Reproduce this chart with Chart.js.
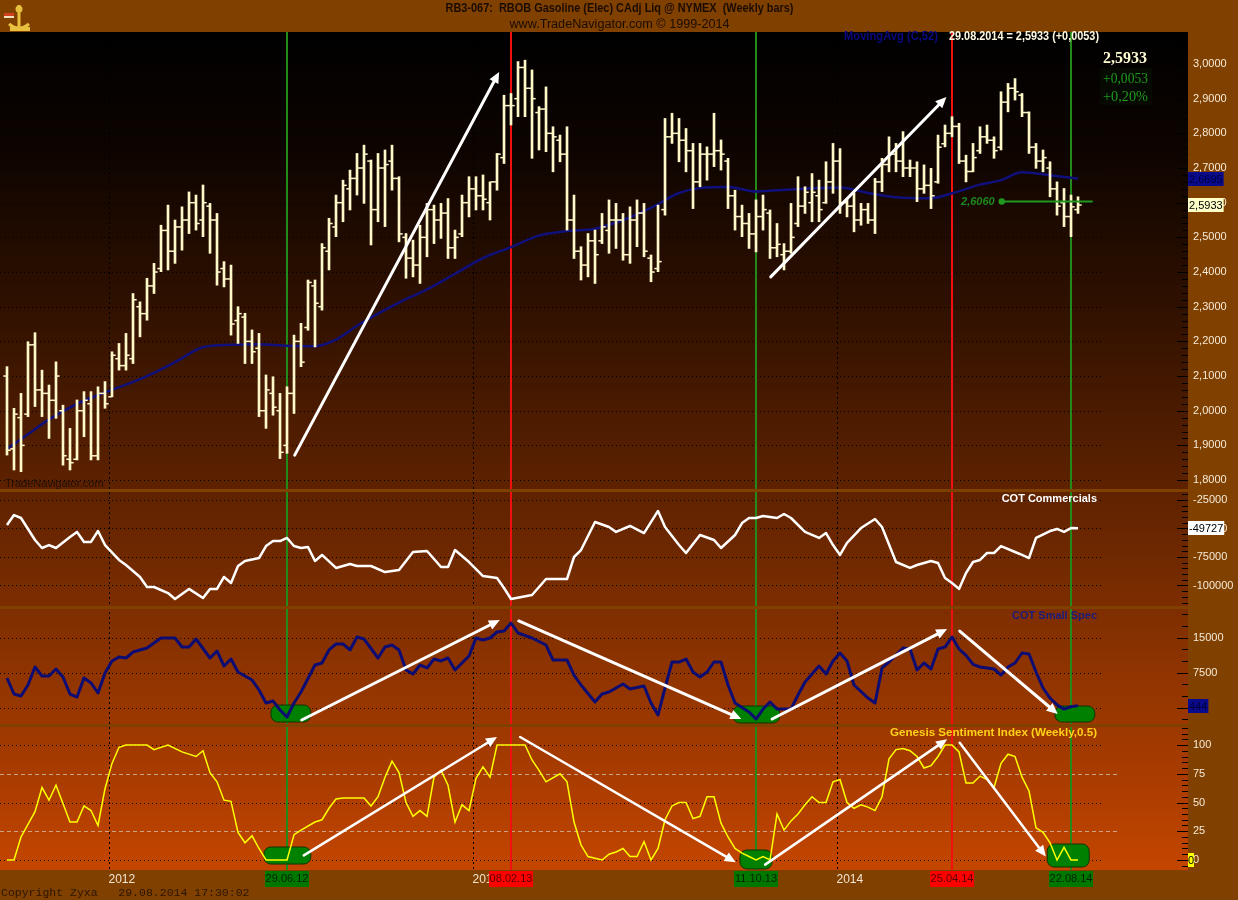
<!DOCTYPE html>
<html lang="en">
<head>
<meta charset="utf-8">
<title>RB3-067 RBOB Gasoline - Weekly bars</title>
<script src="https://cdn.jsdelivr.net/npm/chart.js@4.4.1/dist/chart.umd.min.js"></script>
<style>
  body { margin: 0; background: #804000; }
  canvas { display: block; }
</style>
</head>
<body>
<canvas id="myChart" width="1238" height="900"></canvas>
<script>
// ---------- data ----------
var chartTitle = 'RB3-067:  RBOB Gasoline (Elec) CAdj Liq @ NYMEX  (Weekly bars)';
var chartSubTitle = 'www.TradeNavigator.com \u00a9 1999-2014';
var copyrightText = 'Copyright Zyxa   29.08.2014 17:30:02';

var firstWeek = new Date(2011, 8, 23);   // first weekly bar, 23.09.11
var weekCount = 154;                     // last bar 29.08.14

var priceHigh = [
  2.127, 2.007, 2.050, 2.199, 2.225, 2.117, 2.074, 2.141, 2.016, 1.949,
  2.031, 2.055, 2.055, 2.069, 2.084, 2.170, 2.194, 2.223, 2.338, 2.314,
  2.382, 2.425, 2.535, 2.593, 2.550, 2.588, 2.631, 2.622, 2.651, 2.598,
  2.569, 2.430, 2.420, 2.300, 2.281, 2.233, 2.223, 2.103, 2.098, 2.050,
  2.069, 2.218, 2.252, 2.377, 2.377, 2.482, 2.555, 2.622, 2.665, 2.694,
  2.742, 2.766, 2.723, 2.742, 2.752, 2.766, 2.675, 2.511, 2.492, 2.535,
  2.598, 2.593, 2.598, 2.612, 2.521, 2.622, 2.675, 2.675, 2.680, 2.660,
  2.742, 2.910, 2.915, 3.007, 3.011, 2.983, 2.877, 2.934, 2.819, 2.795,
  2.819, 2.622, 2.473, 2.511, 2.521, 2.569, 2.608, 2.598, 2.569, 2.588,
  2.608, 2.598, 2.449, 2.593, 2.843, 2.858, 2.843, 2.814, 2.771, 2.771,
  2.761, 2.858, 2.781, 2.728, 2.636, 2.593, 2.569, 2.608, 2.622, 2.579,
  2.540, 2.482, 2.598, 2.675, 2.646, 2.684, 2.665, 2.718, 2.771, 2.756,
  2.612, 2.627, 2.598, 2.598, 2.670, 2.728, 2.790, 2.771, 2.805, 2.723,
  2.718, 2.709, 2.699, 2.795, 2.824, 2.848, 2.829, 2.737, 2.771, 2.819,
  2.824, 2.790, 2.920, 2.944, 2.958, 2.915, 2.862, 2.771, 2.752, 2.718,
  2.660, 2.641, 2.622, 2.617
];
var priceLow = [
  1.872, 1.829, 1.824, 1.983, 2.012, 1.983, 1.920, 1.978, 1.843, 1.829,
  1.858, 1.925, 1.858, 1.858, 2.007, 2.040, 2.117, 2.117, 2.136, 2.213,
  2.261, 2.338, 2.401, 2.406, 2.425, 2.463, 2.511, 2.521, 2.502, 2.454,
  2.362, 2.357, 2.218, 2.194, 2.136, 2.136, 1.983, 1.949, 1.987, 1.862,
  1.877, 1.992, 2.127, 2.232, 2.184, 2.290, 2.406, 2.502, 2.545, 2.579,
  2.622, 2.598, 2.478, 2.545, 2.531, 2.636, 2.487, 2.382, 2.386, 2.367,
  2.444, 2.482, 2.497, 2.439, 2.439, 2.502, 2.559, 2.579, 2.579, 2.550,
  2.636, 2.713, 2.824, 2.848, 2.848, 2.728, 2.752, 2.747, 2.689, 2.718,
  2.521, 2.439, 2.377, 2.386, 2.367, 2.482, 2.454, 2.468, 2.434, 2.425,
  2.473, 2.444, 2.372, 2.401, 2.564, 2.771, 2.718, 2.689, 2.583, 2.646,
  2.665, 2.704, 2.694, 2.583, 2.521, 2.502, 2.468, 2.458, 2.521, 2.439,
  2.444, 2.406, 2.454, 2.531, 2.569, 2.545, 2.545, 2.598, 2.627, 2.569,
  2.559, 2.516, 2.535, 2.540, 2.511, 2.632, 2.689, 2.689, 2.675, 2.675,
  2.603, 2.627, 2.583, 2.656, 2.761, 2.790, 2.713, 2.660, 2.689, 2.742,
  2.771, 2.728, 2.752, 2.862, 2.896, 2.848, 2.742, 2.699, 2.689, 2.617,
  2.564, 2.531, 2.502, 2.569
];
var priceOpen = [
  2.10, 1.89, 1.98, 1.99, 2.19, 2.06, 2.05, 2.03, 2.00, 1.86,
  1.86, 2.00, 2.02, 1.87, 2.05, 2.04, 2.15, 2.13, 2.15, 2.30,
  2.28, 2.36, 2.41, 2.52, 2.46, 2.53, 2.55, 2.60, 2.55, 2.59,
  2.55, 2.41, 2.38, 2.26, 2.27, 2.20, 2.18, 2.00, 2.05, 2.00,
  1.90, 2.05, 2.20, 2.24, 2.36, 2.30, 2.46, 2.53, 2.60, 2.64,
  2.67, 2.70, 2.72, 2.58, 2.70, 2.72, 2.67, 2.50, 2.44, 2.42,
  2.50, 2.58, 2.55, 2.57, 2.47, 2.51, 2.60, 2.64, 2.62, 2.60,
  2.66, 2.73, 2.88, 2.90, 2.99, 2.93, 2.86, 2.87, 2.80, 2.78,
  2.74, 2.55, 2.46, 2.42, 2.49, 2.49, 2.52, 2.55, 2.55, 2.45,
  2.55, 2.57, 2.44, 2.41, 2.58, 2.79, 2.80, 2.78, 2.75, 2.66,
  2.74, 2.74, 2.75, 2.72, 2.62, 2.56, 2.54, 2.51, 2.56, 2.57,
  2.47, 2.45, 2.46, 2.54, 2.59, 2.60, 2.62, 2.60, 2.66, 2.72,
  2.60, 2.59, 2.55, 2.58, 2.55, 2.66, 2.71, 2.74, 2.72, 2.70,
  2.70, 2.64, 2.65, 2.66, 2.77, 2.80, 2.82, 2.72, 2.69, 2.75,
  2.79, 2.78, 2.76, 2.89, 2.93, 2.91, 2.86, 2.76, 2.72, 2.70,
  2.64, 2.60, 2.56, 2.58
];
var priceClose = [
  1.886, 1.99, 1.90, 2.19, 2.06, 2.05, 2.03, 2.10, 1.87, 1.85,
  2.00, 2.03, 1.87, 2.05, 2.02, 2.16, 2.13, 2.16, 2.32, 2.28,
  2.36, 2.40, 2.52, 2.46, 2.53, 2.55, 2.60, 2.54, 2.60, 2.55,
  2.40, 2.38, 2.25, 2.28, 2.20, 2.17, 2.00, 2.06, 2.01, 1.88,
  2.05, 2.20, 2.14, 2.37, 2.31, 2.47, 2.54, 2.60, 2.65, 2.67,
  2.70, 2.74, 2.58, 2.70, 2.71, 2.67, 2.51, 2.44, 2.42, 2.50,
  2.58, 2.55, 2.57, 2.47, 2.50, 2.60, 2.64, 2.62, 2.61, 2.66,
  2.74, 2.88, 2.88, 2.99, 2.93, 2.90, 2.87, 2.80, 2.79, 2.74,
  2.55, 2.46, 2.42, 2.49, 2.45, 2.53, 2.55, 2.55, 2.45, 2.55,
  2.57, 2.46, 2.40, 2.43, 2.79, 2.80, 2.78, 2.75, 2.66, 2.74,
  2.74, 2.75, 2.74, 2.62, 2.56, 2.54, 2.51, 2.56, 2.58, 2.47,
  2.48, 2.46, 2.50, 2.59, 2.63, 2.63, 2.58, 2.66, 2.72, 2.60,
  2.59, 2.55, 2.58, 2.55, 2.66, 2.71, 2.74, 2.72, 2.70, 2.70,
  2.64, 2.65, 2.62, 2.76, 2.80, 2.82, 2.72, 2.69, 2.73, 2.79,
  2.78, 2.75, 2.89, 2.93, 2.92, 2.86, 2.76, 2.72, 2.73, 2.64,
  2.59, 2.56, 2.588, 2.5933
];

// 52 week moving average (read at selected weeks)
var maWeeks = [0, 3, 6, 10, 13, 17, 20, 24, 28, 32, 36, 40, 44, 47, 50, 53, 56, 60, 64, 68,
  72, 76, 80, 84, 88, 92, 96, 99, 103, 107, 110, 114, 119, 123, 127, 132, 135, 139, 142, 145, 149, 153];
var maValues = [1.890, 1.932, 1.975, 2.020, 2.045, 2.075, 2.100, 2.140, 2.183, 2.190, 2.192, 2.187,
  2.186, 2.205, 2.245, 2.280, 2.312, 2.350, 2.395, 2.440, 2.472, 2.505, 2.518, 2.525, 2.550, 2.585,
  2.628, 2.642, 2.645, 2.632, 2.636, 2.640, 2.644, 2.628, 2.616, 2.613, 2.627, 2.652, 2.665, 2.688,
  2.679, 2.6695];

// COT Commercials
var cotWeeks = [0, 1, 2, 4, 5, 6, 7, 9, 10, 11, 12, 13, 14, 16, 17, 19, 20, 21, 23, 24,
  26, 28, 29, 30, 31, 32, 33, 34, 36, 37, 38, 39, 40, 41, 42, 43, 44, 45, 47, 49,
  50, 52, 54, 56, 58, 60, 62, 63, 64, 66, 68, 70, 71, 72, 75, 77, 80, 81, 82, 84,
  86, 87, 89, 91, 93, 94, 96, 97, 99, 101, 102, 104, 105, 106, 107, 108, 110, 111, 112, 114,
  116, 117, 118, 119, 120, 122, 124, 125, 127, 129, 130, 132, 133, 134, 135, 136, 137, 138, 139, 140,
  141, 142, 144, 145, 146, 147, 149, 150, 151, 152, 153];
var cotValues = [-46900, -38200, -40800, -60100, -67100, -64500, -67100, -57500, -53000, -61800,
  -61800, -52200, -64500, -77600, -82000, -92500, -101300, -101300, -106600, -111800,
  -103000, -111000, -103000, -103000, -92500, -97800, -82900, -78500, -75900, -65400,
  -61000, -61000, -58300, -65400, -67100, -66200, -78500, -73200, -84600, -81100,
  -82900, -82900, -88200, -86400, -70600, -69700, -83800, -83800, -68900, -79400,
  -91700, -93500, -102200, -111800, -108300, -94300, -94300, -75000, -68900, -44300,
  -48700, -53000, -47800, -54000, -34600, -48700, -64500, -71500, -55700, -60100,
  -67100, -55700, -45200, -40800, -40800, -39000, -40800, -37300, -40800, -53000,
  -58300, -54000, -64500, -73200, -62700, -49600, -41700, -48700, -79400, -84600,
  -82000, -78500, -80300, -93500, -97800, -103000, -89000, -79400, -77600, -71500,
  -71500, -65400, -70600, -73200, -75900, -58300, -52200, -50400, -53000, -49600, -49727];

// COT Small Spec
var specWeeks = [0, 1, 2, 3, 4, 5, 6, 7, 8, 9, 10, 11, 12, 13, 14, 15, 16, 17, 18, 20,
  21, 22, 24, 25, 26, 27, 29, 30, 31, 32, 33, 35, 36, 37, 38, 39, 40, 41, 42, 44,
  45, 46, 47, 48, 49, 50, 51, 53, 54, 55, 56, 57, 58, 59, 60, 61, 62, 63, 64, 66,
  67, 68, 69, 70, 71, 72, 73, 75, 77, 78, 80, 81, 82, 84, 85, 86, 88, 89, 91, 92,
  93, 94, 95, 96, 97, 98, 99, 100, 101, 102, 103, 104, 106, 107, 108, 109, 110, 112, 113, 114,
  116, 117, 118, 119, 120, 121, 123, 124, 125, 126, 128, 129, 130, 131, 132, 133, 134, 135, 136, 137,
  138, 139, 140, 141, 142, 143, 144, 145, 146, 147, 148, 149, 150, 151, 152, 153];
var specValues = [6360, 2930, 2500, 4860, 8720, 6790, 6790, 8290, 6580, 2930, 2290, 6360, 5300, 3150,
  7440, 10010, 10860, 10650, 11930, 12790, 13860, 14930, 14930, 13000, 13000, 14720, 10650, 12150,
  8930, 10430, 7650, 5940, 3790, 1000, 1430, -500, -2000, 1000, 3360, 9150, 9580, 12370, 13650,
  13650, 12370, 15150, 14720, 10650, 13000, 13430, 12370, 8080, 7220, 9150, 8510, 10430, 10010,
  10650, 8080, 11080, 14930, 14500, 14930, 16220, 16440, 18150, 16010, 14930, 13430, 10220, 10220,
  7000, 4860, 1220, 2930, 3360, 5080, 4000, 4650, 1000, -1570, 4220, 9790, 9790, 10430, 7650, 6580,
  7650, 9790, 9790, 4860, 1000, -930, -2430, -290, 1220, -290, -290, 2710, 5500, 8930, 7220, 10010,
  11720, 10010, 4860, 2070, 1000, 8510, 9790, 12790, 12580, 8080, 9580, 8290, 12580, 13000, 15150,
  12580, 11200, 9300, 8720, 8510, 8290, 7000, 8720, 9580, 11720, 11500, 7650, 4220, 2070, 600, -300,
  200, 444];

// Genesis Sentiment Index (Weekly,0.5)
var genesisWeeks = [0, 1, 2, 4, 5, 6, 7, 9, 10, 11, 12, 13, 14, 15, 16, 17, 20, 21, 23, 25,
  27, 28, 29, 30, 31, 32, 33, 34, 35, 36, 37, 40, 41, 42, 44, 45, 46, 47, 48, 51,
  52, 53, 54, 55, 56, 57, 58, 59, 60, 61, 62, 63, 64, 65, 66, 67, 68, 69, 70, 74,
  75, 76, 77, 79, 80, 81, 82, 83, 85, 86, 87, 88, 89, 90, 91, 92, 93, 94, 95, 96,
  97, 98, 99, 100, 101, 102, 103, 104, 105, 106, 107, 108, 109, 110, 111, 112, 113, 114, 115, 116,
  117, 118, 119, 120, 121, 122, 123, 124, 125, 126, 127, 128, 129, 130, 131, 132, 133, 134, 135, 136,
  137, 138, 139, 140, 141, 142, 143, 144, 145, 146, 147, 148, 149, 150, 151, 152, 153];
var genesisValues = [0, 0, 20, 42, 63, 52, 65, 33, 33, 47, 43, 30, 62, 84, 98, 100, 100, 96, 100, 94,
  90, 95, 76, 68, 52, 51, 24, 15, 21, 10, 0, 0, 22, 26, 33, 35, 45, 53, 54, 54,
  47, 55, 72, 86, 76, 50, 38, 43, 38, 72, 78, 65, 33, 48, 43, 71, 81, 72, 100, 100,
  87, 78, 68, 75, 68, 33, 13, 3, 0, 5, 7, 10, 3, 3, 16, 0, 10, 35, 47, 50,
  50, 36, 38, 55, 55, 32, 20, 10, 6, 3, 0, 3, 0, 40, 26, 34, 40, 48, 55, 50,
  50, 68, 70, 50, 45, 48, 46, 43, 55, 88, 96, 97, 95, 90, 80, 82, 90, 100, 100, 94,
  67, 67, 73, 70, 63, 84, 92, 90, 72, 60, 28, 24, 15, 0, 11, 0, 0];

var priceTicks = [1.8, 1.9, 2.0, 2.1, 2.2, 2.3, 2.4, 2.5, 2.6, 2.7, 2.8, 2.9, 3.0];
var cotTicks = [-100000, -75000, -50000, -25000];
var specTicks = [0, 7500, 15000];
var genesisTicks = [0, 25, 50, 75, 100];

var markerDates = ['29.06.12', '08.02.13', '11.10.13', '25.04.14', '22.08.14'];
var markerKinds = ['low', 'high', 'low', 'high', 'low'];

var lastClose = 2.5933, lastChange = 0.0053, lastChangePct = 0.20, lastDate = '29.08.2014';
var lastMa = 2.6695, lastCot = -49727, lastSpec = 444, lastGenesis = 0;
var supportLevel = 2.6060;

// hand drawn annotations, in [week, value] terms
var priceArrows = [[41.1, 1.872, 70.3, 2.977], [109.1, 2.386, 134.2, 2.905]];
var specArrows = [[42.1, -2640, 70.4, 18790], [73.1, 18580, 104.9, -2400], [109.3, -2420, 134.3, 16860], [136.1, 16430, 150.1, -1350]];
var genesisArrows = [[42.4, 4, 70.0, 107], [73.3, 107, 104.1, -2], [108.3, -4, 134.3, 105], [136.1, 102, 148.4, 3]];
var specBoxes = [[37.7, 43.4, 570, -3080], [103.7, 110.4, 360, -3280], [149.7, 155.4, 360, -3080]];
var genesisBoxes = [[36.7, 43.4, 11.3, -3.5], [104.7, 109.3, 8.7, -7.8], [148.6, 154.6, 13.9, -6.1]];
var supportFrom = 142.1, supportTo = 155.1;

// ---------- helpers ----------
function pad2(n) { return (n < 10 ? '0' : '') + n; }

var weekDates = [];
var weekLabels = [];
for (var w = 0; w < weekCount; w++) {
    var d = new Date(firstWeek.getFullYear(), firstWeek.getMonth(), firstWeek.getDate() + 7 * w);
    weekDates.push(d);
    weekLabels.push(pad2(d.getDate()) + '.' + pad2(d.getMonth() + 1) + '.' + String(d.getFullYear()).slice(2));
}
var yearStarts = [];
for (var k = 1; k < weekCount; k++) {
    if (weekDates[k].getFullYear() !== weekDates[k - 1].getFullYear()) {
        yearStarts.push({ pos: k - 0.5, label: String(weekDates[k].getFullYear()) });
    }
}

function commaNum(v, digits) { return v.toFixed(digits).replace('.', ','); }

function pairs(xs, ys) {
    var out = [];
    for (var i = 0; i < xs.length; i++) out.push({ x: xs[i], y: ys[i] });
    return out;
}

var rangeData = [], openData = [], closeData = [];
for (var b = 0; b < weekCount; b++) {
    rangeData.push({ x: b, y: [priceLow[b], priceHigh[b]] });
    openData.push({ x: b - 0.3, y: priceOpen[b] });
    closeData.push({ x: b + 0.3, y: priceClose[b] });
}

var FONT = 'Arial, "Liberation Sans", sans-serif';

function fitText(ctx, text, x, y, width, font, color, align) {
    ctx.save();
    ctx.font = font;
    ctx.fillStyle = color;
    ctx.textBaseline = 'middle';
    ctx.textAlign = 'left';
    var s = width / ctx.measureText(text).width;
    var left = align === 'center' ? x - width / 2 : (align === 'right' ? x - width : x);
    ctx.translate(left, y);
    ctx.scale(s, 1);
    ctx.fillText(text, 0, 0);
    ctx.restore();
}

function drawArrow(ctx, x1, y1, x2, y2, width) {
    var ang = Math.atan2(y2 - y1, x2 - x1);
    var head = 11, half = 5;
    ctx.save();
    ctx.strokeStyle = '#ffffff';
    ctx.fillStyle = '#ffffff';
    ctx.lineWidth = width;
    ctx.lineCap = 'round';
    ctx.beginPath();
    ctx.moveTo(x1, y1);
    ctx.lineTo(x2 - Math.cos(ang) * head * 0.7, y2 - Math.sin(ang) * head * 0.7);
    ctx.stroke();
    ctx.beginPath();
    ctx.moveTo(x2, y2);
    ctx.lineTo(x2 - head * Math.cos(ang) + half * Math.sin(ang), y2 - head * Math.sin(ang) - half * Math.cos(ang));
    ctx.lineTo(x2 - head * Math.cos(ang) - half * Math.sin(ang), y2 - head * Math.sin(ang) + half * Math.cos(ang));
    ctx.closePath();
    ctx.fill();
    ctx.restore();
}

function roundBox(ctx, x1, y1, x2, y2, r) {
    ctx.beginPath();
    ctx.moveTo(x1 + r, y1);
    ctx.lineTo(x2 - r, y1);
    ctx.arcTo(x2, y1, x2, y1 + r, r);
    ctx.lineTo(x2, y2 - r);
    ctx.arcTo(x2, y2, x2 - r, y2, r);
    ctx.lineTo(x1 + r, y2);
    ctx.arcTo(x1, y2, x1, y2 - r, r);
    ctx.lineTo(x1, y1 + r);
    ctx.arcTo(x1, y1, x1 + r, y1, r);
    ctx.closePath();
}

function axisBox(ctx, left, y, text, bg, fg) {
    ctx.save();
    ctx.font = '11px ' + FONT;
    var w = ctx.measureText(text).width + 2;
    ctx.fillStyle = bg;
    ctx.fillRect(left, Math.round(y) - 7, w, 14);
    ctx.fillStyle = fg;
    ctx.textAlign = 'left';
    ctx.textBaseline = 'middle';
    ctx.fillText(text, left + 1, Math.round(y) + 0.5);
    ctx.restore();
}

function hGrid(ctx, scale, values, x1, x2, dash, color) {
    ctx.save();
    ctx.strokeStyle = color;
    ctx.lineWidth = 1;
    ctx.setLineDash(dash);
    values.forEach(function (v) {
        var y = Math.round(scale.getPixelForValue(v)) + 0.5;
        ctx.beginPath();
        ctx.moveTo(x1, y);
        ctx.lineTo(x2, y);
        ctx.stroke();
    });
    ctx.restore();
}

function tickMarks(ctx, scale, right, minor, every) {
    var k0 = Math.ceil(scale.min / minor), k1 = Math.floor(scale.max / minor);
    ctx.save();
    ctx.strokeStyle = '#000000';
    ctx.lineWidth = 1;
    for (var k = k0; k <= k1; k++) {
        var y = Math.round(scale.getPixelForValue(k * minor)) + 0.5;
        if (y < scale.top + 3 || y > scale.bottom - 3) continue;
        var len = (k % every === 0) ? 11 : 6;
        ctx.beginPath();
        ctx.moveTo(right - len, y);
        ctx.lineTo(right, y);
        ctx.stroke();
    }
    ctx.restore();
}

// ---------- drawing plugin ----------
var tnPlugin = {
    id: 'tnPlugin',
    beforeDraw: function (chart) {
        var ctx = chart.ctx, a = chart.chartArea;
        ctx.save();
        ctx.fillStyle = '#804000';
        ctx.fillRect(0, 0, chart.width, chart.height);
        var g = ctx.createLinearGradient(0, a.top, 0, a.bottom);
        g.addColorStop(0, '#000000');
        g.addColorStop(0.14, '#0d0400');
        g.addColorStop(0.32, '#2e1000');
        g.addColorStop(0.535, '#5c2100');
        g.addColorStop(0.62, '#6e2800');
        g.addColorStop(0.75, '#8c3300');
        g.addColorStop(0.92, '#b03e00');
        g.addColorStop(1, '#c44600');
        ctx.fillStyle = g;
        ctx.fillRect(a.left, a.top, a.right - a.left, a.bottom - a.top);
        ctx.restore();
    },
    beforeDatasetsDraw: function (chart) {
        var ctx = chart.ctx, a = chart.chartArea, s = chart.scales;
        var gridEnd = a.right - 86;
        hGrid(ctx, s.yP, priceTicks, a.left, gridEnd, [1, 3], '#000000');
        hGrid(ctx, s.yC, cotTicks, a.left, gridEnd, [1, 3], '#000000');
        hGrid(ctx, s.yS, specTicks, a.left, gridEnd, [1, 3], '#000000');
        hGrid(ctx, s.yG, [0, 50, 100], a.left, gridEnd, [1, 3], '#000000');
        hGrid(ctx, s.yG, [25, 75], a.left, a.right - 70, [4, 3], '#c8a48a');

        // year boundaries
        ctx.save();
        ctx.strokeStyle = '#000000';
        ctx.setLineDash([2, 3]);
        yearStarts.forEach(function (ys) {
            var x = Math.round(s.x.getPixelForValue(ys.pos)) + 0.5;
            ctx.beginPath();
            ctx.moveTo(x, a.top);
            ctx.lineTo(x, a.bottom);
            ctx.stroke();
        });
        ctx.restore();

        // turning point verticals
        ctx.save();
        ctx.lineWidth = 2;
        markerDates.forEach(function (md, i) {
            var x = Math.round(s.x.getPixelForValue(weekLabels.indexOf(md)));
            ctx.strokeStyle = markerKinds[i] === 'low' ? '#238a1a' : '#f01010';
            ctx.beginPath();
            ctx.moveTo(x, a.top);
            ctx.lineTo(x, a.bottom);
            ctx.stroke();
        });
        ctx.restore();

        // panel separators
        ctx.save();
        ctx.fillStyle = '#804000';
        [s.yC, s.yS, s.yG].forEach(function (sc) {
            ctx.fillRect(a.left, Math.round(sc.top) - 1, a.right - a.left, 3);
        });
        ctx.restore();

        // green boxes under the indicator lines
        ctx.save();
        ctx.fillStyle = '#008000';
        ctx.strokeStyle = '#143200';
        ctx.lineWidth = 1;
        specBoxes.forEach(function (bx) {
            roundBox(ctx, s.x.getPixelForValue(bx[0]), s.yS.getPixelForValue(bx[2]),
                s.x.getPixelForValue(bx[1]), s.yS.getPixelForValue(bx[3]), 7);
            ctx.fill();
            ctx.stroke();
        });
        genesisBoxes.forEach(function (bx) {
            roundBox(ctx, s.x.getPixelForValue(bx[0]), s.yG.getPixelForValue(bx[2]),
                s.x.getPixelForValue(bx[1]), s.yG.getPixelForValue(bx[3]), 7);
            ctx.fill();
            ctx.stroke();
        });
        ctx.restore();
    },
    afterDraw: function (chart) {
        var ctx = chart.ctx, a = chart.chartArea, s = chart.scales;

        // arrows
        priceArrows.forEach(function (ar) {
            drawArrow(ctx, s.x.getPixelForValue(ar[0]), s.yP.getPixelForValue(ar[1]),
                s.x.getPixelForValue(ar[2]), s.yP.getPixelForValue(ar[3]), 3);
        });
        specArrows.forEach(function (ar) {
            drawArrow(ctx, s.x.getPixelForValue(ar[0]), s.yS.getPixelForValue(ar[1]),
                s.x.getPixelForValue(ar[2]), s.yS.getPixelForValue(ar[3]), 3);
        });
        genesisArrows.forEach(function (ar) {
            drawArrow(ctx, s.x.getPixelForValue(ar[0]), s.yG.getPixelForValue(ar[1]),
                s.x.getPixelForValue(ar[2]), s.yG.getPixelForValue(ar[3]), 2.5);
        });

        // support level line
        var sy = Math.round(s.yP.getPixelForValue(supportLevel)) + 0.5;
        var sx1 = s.x.getPixelForValue(supportFrom), sx2 = s.x.getPixelForValue(supportTo);
        ctx.save();
        ctx.strokeStyle = '#1f9a1f';
        ctx.fillStyle = '#1f9a1f';
        ctx.lineWidth = 2;
        ctx.beginPath();
        ctx.moveTo(sx1, sy);
        ctx.lineTo(sx2, sy);
        ctx.stroke();
        ctx.beginPath();
        ctx.arc(sx1, sy, 3.2, 0, Math.PI * 2);
        ctx.fill();
        ctx.font = 'italic bold 11px ' + FONT;
        ctx.fillStyle = '#1c8a1c';
        ctx.textAlign = 'right';
        ctx.textBaseline = 'middle';
        ctx.fillText(commaNum(supportLevel, 4), sx1 - 7, sy);
        ctx.restore();

        // axis tick marks inside the plot
        tickMarks(ctx, s.yP, a.right, 0.02, 5);
        tickMarks(ctx, s.yC, a.right, 5000, 5);
        tickMarks(ctx, s.yS, a.right, 2500, 3);
        tickMarks(ctx, s.yG, a.right, 5, 5);

        // last value boxes on the axis
        axisBox(ctx, a.right, s.yP.getPixelForValue(lastMa), commaNum(lastMa, 4), '#0a0a8c', '#00003c');
        axisBox(ctx, a.right, s.yP.getPixelForValue(lastClose), commaNum(lastClose, 4), '#ffffc8', '#000000');
        axisBox(ctx, a.right, s.yC.getPixelForValue(lastCot), String(lastCot), '#ffffff', '#000000');
        axisBox(ctx, a.right, s.yS.getPixelForValue(lastSpec), String(lastSpec), '#0a0a8c', '#00003c');
        ctx.save();
        ctx.fillStyle = '#ffff00';
        var gy = Math.round(s.yG.getPixelForValue(lastGenesis));
        ctx.fillRect(a.right, gy - 7, 6, 14);
        ctx.font = '11px ' + FONT;
        ctx.fillStyle = '#000000';
        ctx.textBaseline = 'middle';
        ctx.fillText(String(lastGenesis), a.right, gy + 0.5);
        ctx.restore();

        // panel captions
        var capRight = a.right - 91;
        ctx.save();
        ctx.textBaseline = 'middle';
        ctx.textAlign = 'right';
        ctx.font = 'bold 11px ' + FONT;
        ctx.fillStyle = '#ffffff';
        ctx.fillText('COT Commercials', capRight, s.yC.top + 9);
        ctx.fillStyle = '#1c1c7c';
        ctx.fillText('COT Small Spec', capRight, s.yS.top + 9);
        ctx.restore();
        fitText(ctx, 'Genesis Sentiment Index (Weekly,0.5)', capRight, s.yG.top + 8, 207,
            'bold 11px ' + FONT, '#ffd21a', 'right');

        ctx.save();
        ctx.font = '11px ' + FONT;
        ctx.fillStyle = '#241000';
        ctx.textBaseline = 'middle';
        ctx.fillText('TradeNavigator.com', a.left + 5, s.yP.bottom - 6);
        ctx.restore();

        // header line inside the price panel
        fitText(ctx, 'MovingAvg (C,52)', 844, a.top + 5, 94, 'bold 12px ' + FONT, '#0a0a80', 'left');
        fitText(ctx, lastDate + ' = ' + commaNum(lastClose, 4) + ' (+' + commaNum(lastChange, 4) + ')',
            949, a.top + 5, 150, 'bold 12px ' + FONT, '#fff8e0', 'left');

        ctx.save();
        ctx.fillStyle = '#070a02';
        ctx.fillRect(1100, 68, 52, 37);
        ctx.restore();
        fitText(ctx, commaNum(lastClose, 4), 1103, 59, 44, 'bold 17px "Liberation Serif", "Times New Roman", serif', '#fffbd0', 'left');
        fitText(ctx, '+' + commaNum(lastChange, 4), 1103, 79, 45, '14px "Liberation Serif", "Times New Roman", serif', '#1f9a1f', 'left');
        fitText(ctx, '+' + commaNum(lastChangePct, 2) + '%', 1103, 97, 45, '14px "Liberation Serif", "Times New Roman", serif', '#1f9a1f', 'left');

        // turning point date labels
        ctx.save();
        ctx.font = '11px ' + FONT;
        ctx.textAlign = 'center';
        ctx.textBaseline = 'middle';
        markerDates.forEach(function (md, i) {
            var x = Math.round(s.x.getPixelForValue(weekLabels.indexOf(md)));
            var low = markerKinds[i] === 'low';
            ctx.fillStyle = low ? '#007800' : '#ff0000';
            ctx.fillRect(x - 22, a.bottom + 1, 44, 16);
            ctx.fillStyle = low ? '#062000' : '#5a0000';
            ctx.fillText(md, x, a.bottom + 9);
        });
        ctx.restore();

        // title, copyright, logo
        fitText(ctx, chartTitle, 619.5, 9, 348, 'bold 12px ' + FONT, '#1a0c00', 'center');
        fitText(ctx, chartSubTitle, 619.5, 24.5, 220, '12px ' + FONT, '#1a0c00', 'center');
        ctx.save();
        ctx.font = '11.5px "Liberation Mono", "Courier New", monospace';
        ctx.fillStyle = '#2a1500';
        ctx.textBaseline = 'middle';
        ctx.fillText(copyrightText, 1, 893);
        ctx.restore();

        ctx.save();
        ctx.strokeStyle = '#e8c040';
        ctx.fillStyle = '#e8c040';
        ctx.lineWidth = 3;
        ctx.beginPath();
        ctx.moveTo(19, 5); ctx.lineTo(19, 30); ctx.stroke();
        ctx.beginPath();
        ctx.arc(19, 14, 14, Math.PI * 0.25, Math.PI * 0.75); ctx.stroke();
        ctx.beginPath();
        ctx.arc(19, 9, 3.5, 0, Math.PI * 2); ctx.fill();
        ctx.fillRect(10, 27, 20, 4);
        ctx.fillStyle = '#d04020';
        ctx.fillRect(4, 13, 10, 3);
        ctx.fillStyle = '#f0e0c0';
        ctx.fillRect(4, 16, 10, 2);
        ctx.restore();
    }
};

function rightAxis(min, max, weight, ticks, fmt) {
    return {
        type: 'linear',
        position: 'right',
        stack: 'panes',
        stackWeight: weight,
        min: min,
        max: max,
        offset: false,
        afterBuildTicks: function (scale) {
            scale.ticks = ticks.map(function (v) { return { value: v }; });
        },
        afterFit: function (scale) { scale.width = 50; },
        grid: { display: false, drawTicks: false },
        border: { display: false },
        ticks: {
            color: '#f5ead6',
            padding: 5,
            autoSkip: false,
            font: { family: FONT, size: 11 },
            callback: fmt
        }
    };
}

var ctx = document.getElementById('myChart').getContext('2d');
var myChart = new Chart(ctx, {
    type: 'bar',
    data: {
        datasets: [
            {
                type: 'bar',
                label: 'High-Low',
                data: rangeData,
                yAxisID: 'yP',
                backgroundColor: '#fff8c8',
                borderWidth: 0,
                barThickness: 2,
                grouped: false
            },
            {
                type: 'line',
                label: 'Open',
                data: openData,
                yAxisID: 'yP',
                showLine: false,
                pointStyle: 'line',
                pointRadius: 1.6,
                pointBorderWidth: 1.5,
                pointBorderColor: '#fff8c8'
            },
            {
                type: 'line',
                label: 'Close',
                data: closeData,
                yAxisID: 'yP',
                showLine: false,
                pointStyle: 'line',
                pointRadius: 1.6,
                pointBorderWidth: 1.5,
                pointBorderColor: '#fff8c8'
            },
            {
                type: 'line',
                label: 'MovingAvg (C,52)',
                data: pairs(maWeeks, maValues),
                yAxisID: 'yP',
                borderColor: '#10107c',
                borderWidth: 2.5,
                pointRadius: 0,
                cubicInterpolationMode: 'monotone'
            },
            {
                type: 'line',
                label: 'COT Commercials',
                data: pairs(cotWeeks, cotValues),
                yAxisID: 'yC',
                borderColor: '#ffffff',
                borderWidth: 2.5,
                pointRadius: 0,
                borderJoinStyle: 'round'
            },
            {
                type: 'line',
                label: 'COT Small Spec',
                data: pairs(specWeeks, specValues),
                yAxisID: 'yS',
                borderColor: '#0c0c72',
                borderWidth: 3,
                pointRadius: 0,
                borderJoinStyle: 'round'
            },
            {
                type: 'line',
                label: 'Genesis Sentiment Index',
                data: pairs(genesisWeeks, genesisValues),
                yAxisID: 'yG',
                borderColor: '#ffff00',
                borderWidth: 1.5,
                pointRadius: 0
            }
        ]
    },
    options: {
        responsive: false,
        animation: false,
        events: [],
        layout: { autoPadding: false, padding: { top: 32, left: 0, right: 0, bottom: 0 } },
        plugins: {
            legend: { display: false },
            tooltip: { enabled: false }
        },
        scales: {
            x: {
                type: 'linear',
                position: 'bottom',
                min: -1,
                max: 168.71,
                offset: false,
                afterBuildTicks: function (scale) {
                    scale.ticks = yearStarts.map(function (ys) { return { value: ys.pos }; });
                },
                afterFit: function (scale) { scale.height = 30; },
                grid: { display: false, drawTicks: false },
                border: { display: false },
                ticks: {
                    color: '#f3e6d2',
                    padding: 2,
                    align: 'start',
                    maxRotation: 0,
                    autoSkip: false,
                    font: { family: FONT, size: 12 },
                    callback: function (value) {
                        for (var i = 0; i < yearStarts.length; i++) {
                            if (Math.abs(yearStarts[i].pos - value) < 0.01) return yearStarts[i].label;
                        }
                        return '';
                    }
                }
            },
            yP: rightAxis(1.7713, 3.0923, 458, priceTicks, function (v) { return commaNum(v, 4); }),
            yC: rightAxis(-118860, -16230, 117, cotTicks, function (v) { return String(v); }),
            yS: rightAxis(-3710, 21580, 118, specTicks, function (v) { return String(v); }),
            yG: rightAxis(-8.7, 117.4, 145, genesisTicks, function (v) { return String(v); })
        }
    },
    plugins: [tnPlugin]
});
</script>
</body>
</html>
